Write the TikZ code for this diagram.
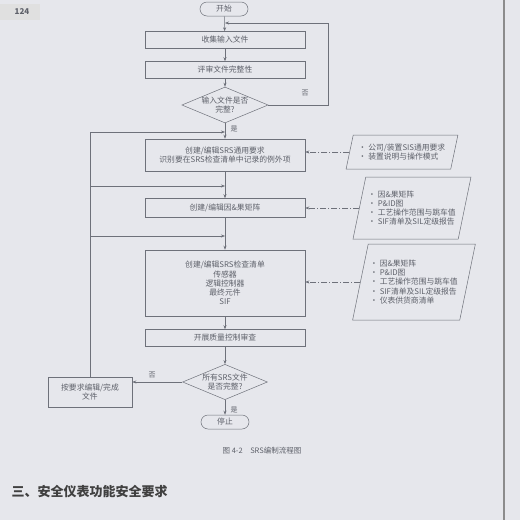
\documentclass[tikz,border=0pt]{standalone}
\usepackage{fontspec}
\setmainfont{Noto Sans CJK SC}
\usetikzlibrary{shapes.geometric,arrows.meta}
\definecolor{paper}{HTML}{E6E7EC}
\definecolor{ink}{HTML}{5E616A}
\definecolor{edge}{HTML}{6E717A}
\begin{document}
\begin{tikzpicture}[x=1pt,y=-1pt,
  font=\fontsize{7.8}{9.2}\selectfont,
  every node/.append style={text=ink},
  proc/.style={draw=edge, line width=0.5pt, minimum width=160pt, align=center, inner sep=2pt},
  term/.style={draw=edge, line width=0.5pt, rounded corners=7pt, minimum width=48pt, minimum height=14pt, inner sep=1pt},
  dec/.style={diamond, draw=edge, line width=0.5pt, aspect=2.4, inner sep=0pt, align=center},
  inbox/.style={trapezium, trapezium left angle=72, trapezium right angle=108, trapezium stretches=true,
    draw=edge, line width=0.5pt, align=left, inner sep=2pt},
  arr/.style={draw=edge, line width=0.5pt, -{Stealth[length=4pt,width=3pt]}},
  ddarr/.style={draw=edge, line width=0.5pt, dash pattern=on 6pt off 2pt on 1pt off 2pt, -{Stealth[length=4pt,width=3pt]}},
  lab/.style={font=\fontsize{7}{8}\selectfont}
]
\fill[paper] (0,0) rectangle (520,520);
\useasboundingbox (0,0) rectangle (520,520);
\draw[black!45, line width=1.2pt] (504,0) -- (504,520);

% page number
\fill[black!12] (0,4) rectangle (40,20);
\node[font=\bfseries\fontsize{8}{9}\selectfont] (pg) at (22,12) {124};

% main flow
\node[term] (start) at (224,9) {开始};
\node[proc, minimum height=17pt] (b1) at (225,40) {收集输入文件};
\node[proc, minimum height=17pt] (b2) at (225,70) {评审文件完整性};
\node[dec] (d1) at (225,105) {输入文件是否\\完整?};
\node[proc, minimum height=32pt] (A) at (225,155) {创建/编辑SRS通用要求\\识别要在SRS检查清单中记录的例外项};
\node[proc, minimum height=19pt] (B) at (225,208) {创建/编辑因\&果矩阵};
\node[proc, minimum height=66pt] (C) at (225,283) {创建/编辑SRS检查清单\\传感器\\逻辑控制器\\最终元件\\SIF};
\node[proc, minimum height=17pt] (D) at (225,338) {开展质量控制审查};
\node[dec] (d2) at (225,382) {所有SRS文件\\是否完整?};
\node[term] (stop) at (225,422) {停止};
\node[draw=edge, line width=0.5pt, minimum width=84pt, minimum height=30pt, align=center, inner sep=1pt] (rw) at (90,392) {按要求编辑/完成\\文件};

\coordinate (j0) at (225,23);
\coordinate (j1) at (225,132);
\coordinate (j2) at (225,186);
\coordinate (j3) at (225,236);

\draw[arr] (start) -- (b1);
\draw[arr] (b1) -- (b2);
\draw[arr] (b2) -- (d1);
\draw[arr] (d1) -- (A);
\draw[arr] (A) -- (B);
\draw[arr] (B) -- (C);
\draw[arr] (C) -- (D);
\draw[arr] (D) -- (d2);
\draw[arr] (d2) -- (stop);
\draw[arr] (d1.east) -- ++(60,0) |- (j0);
\draw[arr] (d2.west) -- (rw.east |- d2.west);
\draw[arr] (rw.north) |- (j1);
\draw[arr] (rw.north |- j2) -- (j2);
\draw[arr] (rw.north |- j3) -- (j3);

\node[lab] (n1) at (305,93) {否};
\node[lab] (y1) at (234,129) {是};
\node[lab] (n2) at (152,375) {否};
\node[lab] (y2) at (234,410) {是};

% input documents
\node[inbox, minimum width=112pt, minimum height=34pt] (S1) at (402,152) {• 公司/装置SIS通用要求\\• 装置说明与操作模式};
\node[inbox, minimum width=118pt, minimum height=62pt] (S2) at (412,208) {• 因\&果矩阵\\• P\&ID图\\• 工艺操作范围与跳车值\\• SIF清单及SIL定级报告};
\node[inbox, minimum width=120pt, minimum height=76pt] (S3) at (414,282) {• 因\&果矩阵\\• P\&ID图\\• 工艺操作范围与跳车值\\• SIF清单及SIL定级报告\\• 仪表供货商清单};

\draw[ddarr] (S1.west) -- (S1.west -| A.east);
\draw[ddarr] (S2.west) -- (S2.west -| B.east);
\draw[ddarr] (S3.west) -- (S3.west -| C.east);

% caption and heading
\node[font=\fontsize{7.5}{8.5}\selectfont] (cap) at (262,451) {图 4-2\quad SRS编制流程图};
\node[font=\bfseries\fontsize{13}{14}\selectfont, text=black!75, anchor=west] (hd) at (8,492) {三、安全仪表功能安全要求};
\end{tikzpicture}
\end{document}
